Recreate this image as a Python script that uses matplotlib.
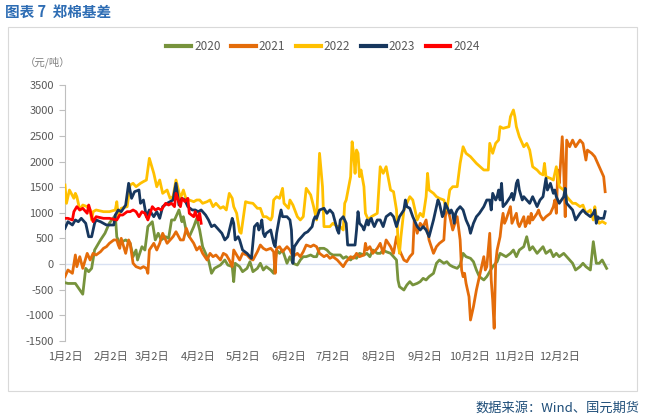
import matplotlib
matplotlib.use("Agg")
import matplotlib.pyplot as plt
from matplotlib.patches import Rectangle

plt.rcParams['font.family'] = ['Noto Sans CJK SC', 'DejaVu Sans']

# ---- data: day offset from 1月2日, basis value (元/吨) ----
days_2020 = [0, 2, 7, 12, 14, 16, 18, 20, 24, 27, 30, 34, 35, 37, 41, 44, 46, 48, 49, 52, 54, 56, 59, 61, 63, 65,
             68, 70, 72, 74, 77, 79, 80, 82, 84, 87, 89, 91, 93, 97, 99, 101, 105, 108, 110, 113, 114, 115, 118, 120,
             123, 125, 127, 130, 132, 134, 136, 139, 141, 143, 145, 147, 150, 152, 154, 157, 159, 161, 163, 166, 168,
             170, 172, 175, 177, 179, 181, 184, 186, 188, 190, 193, 195, 197, 199, 202, 204, 206, 208, 211, 213, 215,
             217, 220, 222, 224, 225, 226, 229, 231, 233, 235, 238, 240, 242, 244, 246, 249, 251, 253, 256, 258, 260,
             262, 265, 267, 269, 271, 274, 276, 278, 280, 283, 285, 287, 289, 292, 294, 296, 298, 301, 303, 305, 307,
             310, 312, 314, 316, 319, 321, 323, 325, 328, 330, 332, 334, 337, 339, 341, 343, 345, 348, 350, 352, 355,
             357, 359, 361, 363, 366]
vals_2020 = [-365, -380, -380, -590, -85, -150, -85, 273, 470, 600, 800, 950, 530, 410, 470, 410, 143, 273, 78, 338,
             273, 730, 826, 470, 600, 470, 533, 500, 860, 860, 1055, 826, 924, 630, 533, 730, 890, 664, 338, 78, -182,
             -85, -20, 78, -20, -52, -345, 14, -52, -150, -85, 45, -150, -85, 14, -117, -52, -117, -182, 273, 208, 273,
             14, 143, 14, -20, 78, 143, 143, 176, 143, 143, 306, 306, 273, 208, 176, 176, 176, 111, 143, 78, 143, 111,
             208, 176, 208, 143, 273, 208, 208, 273, 240, 208, 143, 78, -312, -443, -508, -410, -345, -410, -378, -345,
             -280, -312, -247, -182, 14, 78, 14, 45, -20, -52, -85, -20, 208, 143, 111, 45, -117, -247, -312, -247, -150,
             -52, 45, 208, 176, 143, 208, 273, 143, 273, 338, 533, 273, 338, 208, 273, 338, 208, 273, 143, 208, 143,
             208, 143, 78, 14, -117, -52, 14, -52, -117, 436, 14, 14, 78, -85]

days_2021 = [0, 2, 5, 7, 8, 10, 12, 15, 17, 19, 21, 24, 26, 28, 30, 33, 35, 36, 37, 38, 41, 43, 44, 46, 48, 51, 53, 55,
             56, 57, 60, 62, 64, 66, 69, 71, 73, 75, 78, 80, 82, 84, 87, 89, 91, 93, 96, 98, 100, 102, 105, 107, 109,
             111, 113, 114, 116, 118, 120, 123, 125, 127, 130, 132, 134, 136, 139, 141, 142, 143, 145, 147, 150, 152,
             154, 157, 159, 161, 163, 166, 168, 170, 172, 175, 177, 179, 181, 184, 186, 188, 190, 193, 195, 197, 199,
             202, 203, 204, 206, 208, 211, 213, 215, 217, 220, 222, 224, 226, 229, 231, 233, 235, 236, 238, 240, 242,
             244, 246, 249, 251, 253, 256, 257, 258, 260, 262, 265, 267, 268, 269, 270, 271, 273, 274, 276, 278, 280,
             283, 284, 285, 286, 287, 288, 289, 290, 291, 292, 293, 294, 295, 296, 297, 298, 301, 302, 303, 305, 306,
             307, 310, 311, 312, 313, 314, 315, 316, 319, 320, 321, 323, 325, 328, 330, 331, 332, 333, 334, 336, 337,
             338, 339, 341, 343, 345, 348, 350, 352, 353, 356, 358, 360, 362, 364, 365]
vals_2021 = [-248, -117, -182, 176, -52, 143, -85, 208, 78, 208, 176, 240, 306, 338, 404, 470, 470, 371, 306, 502, 208,
             470, 404, 14, -52, -85, -52, -85, -182, 273, 404, 273, 404, 600, 404, 470, 533, 630, 470, 470, 697, 533,
             404, 273, 338, 208, 78, 208, 143, 176, 78, 208, 176, 78, -52, 273, 176, 78, 208, 176, 111, 78, 240, 371,
             306, 273, 306, 240, -182, 306, 338, 240, 338, 273, 143, 208, 143, 240, 371, 338, 371, 338, 208, 143, 176,
             111, 143, 78, 14, -52, 45, 143, 111, 208, 143, 176, 404, 273, 338, 208, 306, 404, 208, 470, 338, 208, 533,
             273, 78, 45, 143, 208, 860, 600, 795, 730, 860, 470, 208, 338, 404, 470, 924, 1120, 924, 664, 924, 470,
             -117, -247, -182, -378, -639, -1094, -834, -508, -247, 143, -117, -52, 273, 600, -312, -703, -1256, 14, 273,
             404, 533, 795, 990, 795, 860, 1120, 795, 860, 990, 795, 730, 924, 730, 795, 924, 795, 990, 860, 990, 1055,
             957, 860, 924, 990, 1120, 1250, 990, 1836, 1576, 2486, 1836, 924, 2420, 2290, 2420, 2290, 2420, 2355, 2030,
             2225, 2160, 2095, 1966, 1836, 1705, 1412]

days_2022 = [0, 1, 3, 6, 7, 8, 10, 12, 15, 17, 18, 19, 21, 26, 30, 34, 35, 36, 38, 42, 44, 46, 48, 51, 53, 55, 57, 60,
             62, 64, 66, 69, 71, 73, 75, 78, 80, 82, 84, 87, 89, 91, 93, 96, 98, 100, 102, 105, 107, 109, 111, 113,
             114, 116, 118, 119, 122, 124, 127, 130, 132, 134, 136, 139, 140, 141, 143, 145, 147, 148, 151, 152, 154,
             157, 159, 161, 163, 166, 168, 170, 172, 174, 175, 177, 179, 181, 184, 186, 188, 189, 190, 193, 194, 195,
             196, 197, 198, 199, 200, 202, 203, 205, 207, 209, 211, 213, 214, 215, 217, 220, 222, 224, 225, 226, 227,
             229, 231, 233, 235, 238, 240, 242, 244, 245, 246, 249, 251, 253, 256, 258, 260, 262, 265, 267, 269, 271,
             274, 278, 283, 286, 287, 289, 291, 293, 294, 296, 300, 301, 303, 304, 305, 307, 310, 312, 314, 316, 319,
             321, 323, 324, 325, 328, 330, 332, 333, 334, 337, 339, 341, 343, 345, 348, 350, 352, 355, 357, 358, 359,
             361, 363, 365]
vals_2022 = [1543, 1185, 1445, 1283, 1380, 1315, 1055, 1152, 1120, 1055, 860, 1022, 1055, 1022, 1022, 1055, 1217, 924,
             1088, 1120, 1543, 1576, 1510, 1576, 1610, 1640, 2064, 1771, 1510, 1640, 1380, 1445, 1283, 1315, 1640, 1283,
             1445, 1250, 1250, 1217, 1250, 1250, 1185, 1217, 1250, 1120, 1185, 1088, 1120, 1055, 1380, 1283, 1120, 990,
             630, 600, 1217, 1198, 1185, 1088, 1088, 924, 924, 860, 924, 1250, 1315, 1283, 1478, 1185, 1088, 1250, 1152,
             924, 860, 924, 1478, 1350, 1120, 860, 2162, 1510, 730, 730, 730, 795, 730, 730, 664, 1185, 1250, 1705,
             2388, 2162, 1770, 2226, 2162, 1705, 1836, 1510, 990, 860, 924, 957, 990, 1900, 1836, 1771, 1900, 1445,
             1412, 1055, 470, 208, 533, 1055, 1185, 1315, 1250, 860, 990, 924, 1315, 1771, 1445, 1380, 1315, 1282, 1250,
             1055, 1445, 1510, 1510, 1966, 2290, 2162, 2096, 1966, 1836, 1836, 2357, 2162, 2357, 2421, 2682, 2650, 2682,
             2877, 3008, 2877, 2682, 2486, 2290, 2355, 2226, 1900, 1836, 1771, 1740, 1966, 1705, 1673, 1640, 1900, 1705,
             1510, 1445, 1315, 1250, 1185, 1185, 1120, 1150, 990, 1055, 860, 1120, 924, 795, 830, 795]

days_2023 = [0, 2, 5, 7, 9, 11, 14, 15, 16, 18, 20, 21, 24, 26, 28, 30, 33, 34, 36, 38, 41, 43, 45, 47, 50, 51, 53, 55,
             57, 60, 62, 64, 66, 69, 71, 73, 75, 77, 79, 81, 83, 86, 88, 90, 92, 95, 97, 99, 101, 104, 106, 108, 110,
             113, 114, 115, 117, 118, 120, 123, 125, 126, 128, 130, 131, 132, 133, 134, 135, 136, 139, 140, 141, 142,
             143, 145, 146, 147, 150, 152, 153, 154, 155, 158, 160, 162, 164, 167, 168, 169, 170, 172, 175, 177, 179,
             181, 184, 185, 186, 188, 190, 191, 194, 196, 197, 198, 199, 201, 202, 203, 204, 205, 206, 207, 208, 209,
             211, 213, 215, 217, 220, 222, 224, 226, 229, 230, 231, 233, 235, 238, 240, 242, 244, 246, 249, 251, 252,
             253, 255, 256, 257, 258, 260, 261, 262, 263, 264, 265, 267, 269, 271, 273, 274, 276, 278, 280, 283, 285,
             287, 288, 289, 291, 292, 293, 294, 295, 296, 298, 301, 302, 303, 304, 305, 306, 307, 309, 310, 312, 314,
             316, 319, 321, 323, 325, 326, 328, 330, 331, 332, 334, 337, 338, 339, 341, 343, 345, 348, 350, 352, 355,
             357, 358, 359, 360, 361, 363, 364, 365]
vals_2023 = [697, 826, 762, 860, 826, 892, 795, 664, 533, 533, 795, 860, 826, 795, 762, 762, 762, 957, 1055, 1022, 1152,
             1576, 1283, 1412, 1445, 1185, 1250, 924, 1055, 924, 1022, 892, 1120, 1185, 1217, 1250, 1576, 1152, 1283,
             1250, 1120, 1055, 1055, 1022, 1055, 957, 860, 730, 762, 664, 600, 470, 533, 892, 795, 470, 533, 470, 273,
             208, 143, 111, 730, 795, 664, 730, 860, 600, 533, 600, 664, 533, 404, 338, 600, 924, 1055, 924, 924, 860,
             664, 14, 338, 470, 533, 600, 630, 730, 860, 924, 890, 1055, 1088, 990, 1055, 990, 664, 600, 860, 924, 795,
             371, 371, 371, 664, 1022, 795, 730, 664, 762, 860, 762, 860, 892, 795, 730, 860, 860, 730, 924, 990, 924,
             730, 924, 1055, 1250, 1120, 1088, 924, 730, 664, 730, 664, 533, 860, 1120, 1250, 1185, 924, 990, 1185, 1120,
             990, 1055, 990, 795, 990, 1055, 1120, 1055, 860, 730, 600, 795, 924, 990, 1120, 1250, 1250, 1055, 1380,
             1250, 1315, 1445, 1250, 1576, 1120, 1185, 1315, 1380, 1250, 1380, 1576, 1640, 1445, 1250, 1315, 1250, 1185,
             1315, 1120, 1250, 1315, 1673, 1445, 1576, 1380, 1445, 1315, 1185, 1315, 1478, 1185, 1120, 1055, 860, 990,
             1055, 990, 924, 990, 1055, 795, 924, 892, 892, 892, 1022]

days_2024 = [0, 2, 5, 6, 8, 10, 12, 15, 16, 17, 18, 19, 21, 26, 30, 35, 37, 39, 42, 44, 46, 48, 50, 52, 54, 56, 59, 61,
             63, 65, 68, 70, 72, 74, 75, 78, 79, 81, 83, 84, 87, 88, 90, 91, 92]
vals_2024 = [892, 892, 860, 1022, 1120, 1055, 1088, 990, 1152, 1055, 924, 826, 924, 892, 892, 860, 957, 957, 1022, 1022,
             1055, 1022, 924, 1022, 990, 860, 1120, 1055, 1088, 1055, 1185, 1152, 1185, 1120, 1380, 1120, 1283, 1220,
             1283, 990, 924, 1022, 860, 990, 795]

series_names = ['2020', '2021', '2022', '2023', '2024']
series_colors = ['#77933C', '#E46C0A', '#FFC000', '#17375E', '#FF0000']

tick_days = [0, 31, 59, 90, 120, 151, 181, 212, 243, 273, 304, 334]
tick_labels = ['1月2日', '2月2日', '3月2日', '4月2日', '5月2日', '6月2日', '7月2日', '8月2日', '9月2日',
               '10月2日', '11月2日', '12月2日']
y_ticks = [-1500, -1000, -500, 0, 500, 1000, 1500, 2000, 2500, 3000, 3500]

# ---- figure ----
fig = plt.figure(figsize=(6.45, 4.18), dpi=100)
fig.patches.append(Rectangle((8 / 645, 1 - 391 / 418), 629 / 645, 364 / 418, transform=fig.transFigure,
                             fill=False, edgecolor='#D9D9D9', linewidth=0.8))
fig.text(5 / 645, 1 - 12 / 418, '图表 7  郑棉基差', color='#2E6DB4', fontsize=10.5, fontweight='bold',
         va='center', ha='left')
fig.text(640 / 645, 1 - 408 / 418, '数据来源：Wind、国元期货', color='#1F4E79', fontsize=9.5,
         va='center', ha='right')
fig.text(48 / 645, 1 - 62 / 418, '（元/吨）', color='#7F7F7F', fontsize=7.5, va='center', ha='center')

ax = fig.add_axes([65 / 645, 1 - 340.8 / 418, 544.6 / 645, 256 / 418])
all_days = [days_2020, days_2021, days_2022, days_2023, days_2024]
all_vals = [vals_2020, vals_2021, vals_2022, vals_2023, vals_2024]
ax.axhline(0, color='#D9E1F2', linewidth=1.0, zorder=1)
for d, v, n, c in zip(all_days, all_vals, series_names, series_colors):
    ax.plot(d, v, color=c, linewidth=2.0, label=n, solid_joinstyle='round', zorder=3)

ax.set_xlim(0, 368)
ax.set_ylim(-1500, 3500)
ax.set_yticks(y_ticks)
ax.set_yticklabels([str(t) for t in y_ticks])
ax.set_xticks(tick_days)
ax.set_xticklabels(tick_labels)
for s in ['top', 'right', 'bottom']:
    ax.spines[s].set_visible(False)
ax.spines['left'].set_color('#BFBFBF')
ax.tick_params(axis='y', colors='#BFBFBF', labelcolor='#595959', labelsize=8, length=4, width=0.8, pad=4)
ax.tick_params(axis='x', length=0, labelcolor='#595959', labelsize=8, pad=8)

leg = fig.legend(loc='center', bbox_to_anchor=(323 / 645, 1 - 47 / 418), ncol=5, frameon=False,
                 fontsize=8.5, handlelength=2.1, columnspacing=0.9, handletextpad=0.25)
for t in leg.get_texts():
    t.set_color('#595959')
for l in leg.get_lines():
    l.set_linewidth(3)

fig.savefig('out.png', dpi=100)
